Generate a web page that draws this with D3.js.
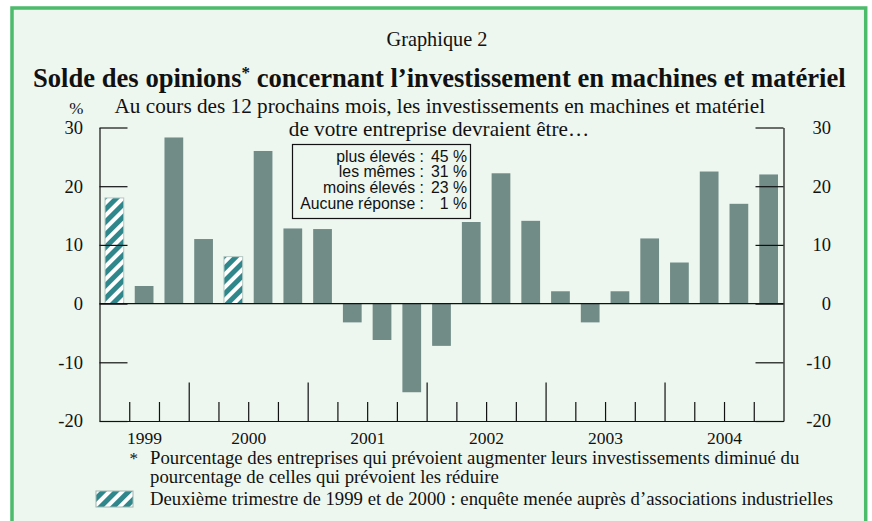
<!DOCTYPE html>
<html>
<head>
<meta charset="utf-8">
<script src="https://cdn.jsdelivr.net/npm/d3@7"></script>
<style>
  body { margin: 0; background: #fff; }
  text { fill: #111; }
  .serif { font-family: "Liberation Serif", "Times New Roman", serif; }
  .sans { font-family: "Liberation Sans", Arial, sans-serif; }
</style>
</head>
<body>
<script>
// quarters 1999 T2 .. 2004 T4
var quarters = ["1999T2","1999T3","1999T4","2000T1","2000T2","2000T3","2000T4",
    "2001T1","2001T2","2001T3","2001T4","2002T1","2002T2","2002T3","2002T4",
    "2003T1","2003T2","2003T3","2003T4","2004T1","2004T2","2004T3","2004T4"];
var solde = [18, 3, 28.3, 11, 8, 26, 12.8, 12.7,
    -3.2, -6.2, -15.1, -7.2, 13.9, 22.2, 14.1, 2.1,
    -3.2, 2.1, 11.1, 7, 22.5, 17, 22];
// second quarter of 1999 and 2000: survey of industry associations
var hatched = [true, false, false, false, true, false, false, false,
    false, false, false, false, false, false, false, false,
    false, false, false, false, false, false, false];
var years = ["1999", "2000", "2001", "2002", "2003", "2004"];
var yTicks = [30, 20, 10, 0, -10, -20];
var responseLabels = ["plus élevés :", "les mêmes :", "moins élevés :", "Aucune réponse :"];
var responseValues = ["45 %", "31 %", "23 %", "1 %"];

var barColor = "#718b87",
    hatchColor = "#2f878c",
    bgColor = "#edf7ef",
    frameColor = "#4cbb6a";

var svg = d3.select("body").append("svg").attr("width", 872).attr("height", 521);

var plotLeft = 99.5, plotRight = 783.5, plotTop = 127.5, plotBottom = 421;

// shrink or grow a text so it spans a given width
function fit(sel, w) {
    var len = sel.node().getComputedTextLength();
    var fs = parseFloat(sel.style("font-size"));
    sel.style("font-size", (fs * w / len) + "px");
    return fs * w / len;
}

var defs = svg.append("defs");
var pat = defs.append("pattern")
    .attr("id", "hatch")
    .attr("patternUnits", "userSpaceOnUse")
    .attr("width", 9).attr("height", 9)
    .attr("patternTransform", "rotate(45)");
pat.append("rect").attr("width", 9).attr("height", 9).attr("fill", hatchColor);
pat.append("rect").attr("width", 4).attr("height", 9).attr("fill", "#fff");

// frame
svg.append("rect").attr("width", 872).attr("height", 521).attr("fill", "#fff");
svg.append("rect")
    .attr("x", 12).attr("y", 8)
    .attr("width", 853.7).attr("height", 540)
    .attr("fill", bgColor)
    .attr("stroke", frameColor)
    .attr("stroke-width", 3.5);

// titles
var gr = svg.append("text").attr("class", "serif")
    .attr("x", 437).attr("y", 46)
    .attr("text-anchor", "middle")
    .style("font-size", "17.5px")
    .text("Graphique 2");
fit(gr, 101);

var title = svg.append("text").attr("class", "serif")
    .attr("x", 33).attr("y", 87)
    .style("font-size", "26px").style("font-weight", "bold");
title.append("tspan").text("Solde des opinions");
title.append("tspan").attr("dy", -9).style("font-size", "17px").text("*");
title.append("tspan").attr("dy", 9).text(" concernant l’investissement en machines et matériel");
fit(title, 813);

var sub1 = svg.append("text").attr("class", "serif")
    .attr("x", 114.5).attr("y", 112.5)
    .style("font-size", "19px")
    .text("Au cours des 12 prochains mois, les investissements en machines et matériel");
var subSize = fit(sub1, 651);
svg.append("text").attr("class", "serif")
    .attr("x", 439).attr("y", 136)
    .attr("text-anchor", "middle")
    .style("font-size", subSize + "px")
    .text("de votre entreprise devraient être…");

// scales
var x = d3.scaleBand()
    .domain(quarters)
    .range([plotLeft, plotRight])
    .paddingInner(0.37)
    .paddingOuter(0.185);

var xq = d3.scaleLinear().domain([0, quarters.length]).range([plotLeft, plotRight]);

var y = d3.scaleLinear().domain([-20, 30]).range([plotBottom, plotTop]);

// bars
svg.append("g")
    .selectAll("rect")
    .data(solde)
    .enter().append("rect")
    .attr("x", function(d, i) { return x(quarters[i]); })
    .attr("width", x.bandwidth())
    .attr("y", function(d) { return y(Math.max(0, d)); })
    .attr("height", function(d) { return Math.abs(y(d) - y(0)); })
    .attr("fill", function(d, i) { return hatched[i] ? "url(#hatch)" : barColor; })
    .attr("stroke", function(d, i) { return hatched[i] ? "#b3c6c1" : "none"; })
    .attr("stroke-width", 1);

// zero line
svg.append("line")
    .attr("x1", plotLeft).attr("x2", plotRight)
    .attr("y1", y(0)).attr("y2", y(0))
    .attr("stroke", "#111").attr("stroke-width", 1.2);

// plain hyphen for negatives, as in the original
var plain = function(d) { return String(d); };

// left axis
var yl = svg.append("g")
    .attr("transform", "translate(" + plotLeft + ",0)")
    .call(d3.axisLeft(y).tickValues(yTicks).tickFormat(plain)
        .tickSizeInner(-28).tickSizeOuter(0).tickPadding(16.5));

// right axis, labels right-aligned
var yr = svg.append("g")
    .attr("transform", "translate(" + plotRight + ",0)")
    .call(d3.axisRight(y).tickValues(yTicks).tickFormat(plain)
        .tickSizeInner(-28).tickSizeOuter(0).tickPadding(47.5));
yr.selectAll("text").attr("text-anchor", "end");

[yl, yr].forEach(function(g) {
    g.attr("font-family", null).attr("font-size", null);
    g.selectAll("text")
        .attr("class", "serif")
        .style("font-size", "18.5px")
        .style("fill", "#111");
    g.selectAll("line, path").attr("stroke", "#111").attr("stroke-width", 1.2);
});

svg.append("text").attr("class", "serif")
    .attr("x", 83.5).attr("y", 114)
    .attr("text-anchor", "end")
    .style("font-size", "17px")
    .text("%");

// bottom axis: quarter ticks, longer at year changes
var xa = svg.append("g")
    .attr("transform", "translate(0," + plotBottom + ")")
    .call(d3.axisBottom(xq).tickValues(d3.range(1, quarters.length))
        .tickSizeInner(-19).tickSizeOuter(0).tickFormat(""));
xa.selectAll(".tick line")
    .attr("y2", function(d) { return d % 4 === 3 ? -38.5 : -19; });
xa.selectAll("line, path").attr("stroke", "#111").attr("stroke-width", 1.2);

// year labels centred on their quarters (1999 starts at T2)
var yearCenters = years.map(function(yr, i) {
    var a = Math.max(0, 4 * i - 1), b = Math.min(4 * i + 3, quarters.length);
    return (a + b) / 2;
});
var xy = svg.append("g")
    .attr("transform", "translate(0," + plotBottom + ")")
    .call(d3.axisBottom(xq).tickValues(yearCenters).tickSize(0).tickPadding(0)
        .tickFormat(function(d, i) { return years[i]; }));
xy.select(".domain").remove();
xy.attr("font-family", null).attr("font-size", null);
xy.selectAll("text")
    .attr("class", "serif")
    .attr("dy", null).attr("y", 22.5)
    .style("font-size", "17.5px")
    .style("fill", "#111");

// response box
svg.append("rect")
    .attr("x", 292.5).attr("y", 144.5)
    .attr("width", 178).attr("height", 74)
    .attr("fill", bgColor)
    .attr("stroke", "#111").attr("stroke-width", 1.2);

var box = svg.append("g").attr("class", "sans").style("font-size", "14.5px");
box.selectAll("text.lab")
    .data(responseLabels)
    .enter().append("text")
    .attr("class", "lab")
    .attr("x", 424).attr("y", function(d, i) { return 161.5 + i * 15.8; })
    .attr("text-anchor", "end")
    .text(function(d) { return d; });
var boxSize = fit(box.select("text.lab:last-of-type"), 124);
box.style("font-size", boxSize + "px");
box.selectAll("text.lab").style("font-size", null);
box.selectAll("text.val")
    .data(responseValues)
    .enter().append("text")
    .attr("class", "val")
    .attr("x", 467).attr("y", function(d, i) { return 161.5 + i * 15.8; })
    .attr("text-anchor", "end")
    .text(function(d) { return d; });

// footnotes
svg.append("text").attr("class", "serif")
    .attr("x", 129.5).attr("y", 464)
    .style("font-size", "17px")
    .text("*");
var n1 = svg.append("text").attr("class", "serif")
    .attr("x", 150).attr("y", 464)
    .style("font-size", "17px")
    .text("Pourcentage des entreprises qui prévoient augmenter leurs investissements diminué du");
var noteSize = fit(n1, 650);
svg.append("text").attr("class", "serif")
    .attr("x", 150).attr("y", 483)
    .style("font-size", noteSize + "px")
    .text("pourcentage de celles qui prévoient les réduire");

svg.append("rect")
    .attr("x", 96).attr("y", 491)
    .attr("width", 37).attr("height", 16)
    .attr("fill", "url(#hatch)")
    .attr("stroke", "#9fb5b0").attr("stroke-width", 1);
svg.append("text").attr("class", "serif")
    .attr("x", 150).attr("y", 504.5)
    .style("font-size", noteSize + "px")
    .text("Deuxième trimestre de 1999 et de 2000 : enquête menée auprès d’associations industrielles");
</script>
</body>
</html>
